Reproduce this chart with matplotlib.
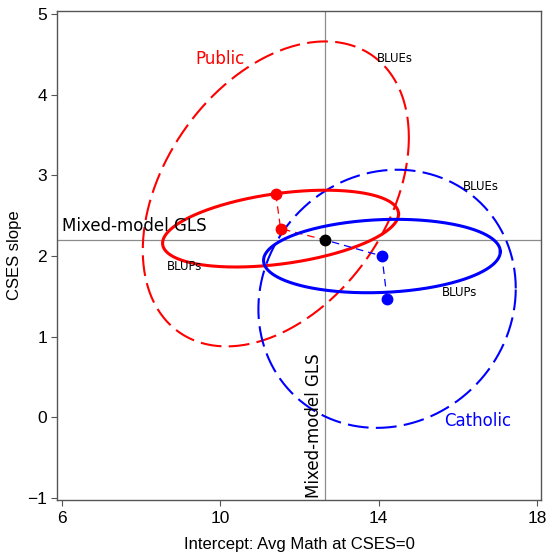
import numpy as np
import matplotlib
matplotlib.use('Agg')
import matplotlib.pyplot as plt

# group summaries: centre (intercept, slope), half-widths and correlation of the 68% ellipse
groups = ['Public', 'Catholic']
colors = ['red', 'blue']
blue_centers = [(11.40, 2.77), (14.21, 1.47)]
blue_halfwidths = [(3.36, 1.89), (3.25, 1.60)]
blue_corr = [0.37, 0.08]
blup_centers = [(11.52, 2.34), (14.08, 2.00)]
blup_halfwidths = [(2.98, 0.476), (2.99, 0.455)]
blup_corr = [0.38, 0.12]
gls_center = (12.64, 2.20)

# label positions (data coords)
group_label_pos = [(9.99, 4.44), (16.5, -0.05)]
blue_label_pos = [(14.40, 4.45), (16.59, 2.86)]
blup_label_pos = [(9.1, 1.87), (16.05, 1.55)]


def ellipse_xy(center, halfw, r, n=400):
    t = np.linspace(0, 2 * np.pi, n)
    x = center[0] + halfw[0] * np.cos(t)
    y = center[1] + halfw[1] * (r * np.cos(t) + np.sqrt(1 - r ** 2) * np.sin(t))
    return x, y


plt.rcParams['font.family'] = ['Liberation Sans', 'DejaVu Sans']

fig = plt.figure(figsize=(5.46, 5.59), dpi=100)
ax = fig.add_axes([0.1053, 0.1047, 0.885, 0.876])

ax.axvline(gls_center[0], color='#8c8c8c', lw=0.9, zorder=1)
ax.axhline(gls_center[1], color='#8c8c8c', lw=0.9, zorder=1)

for i, g in enumerate(groups):
    c = colors[i]
    x, y = ellipse_xy(blue_centers[i], blue_halfwidths[i], blue_corr[i])
    ax.plot(x, y, color=c, lw=1.5, dashes=(10, 3.5), zorder=2)
    x, y = ellipse_xy(blup_centers[i], blup_halfwidths[i], blup_corr[i])
    ax.plot(x, y, color=c, lw=2.2, zorder=3)
    # connectors BLUE -> BLUP -> GLS
    ax.plot([blue_centers[i][0], blup_centers[i][0], gls_center[0]],
            [blue_centers[i][1], blup_centers[i][1], gls_center[1]],
            color=c, lw=0.9, dashes=(6, 4), zorder=3)
    ax.plot([blue_centers[i][0], blup_centers[i][0]],
            [blue_centers[i][1], blup_centers[i][1]],
            'o', color=c, ms=7.5, zorder=4)
    ax.text(group_label_pos[i][0], group_label_pos[i][1], g, color=c,
            fontsize=12, ha='center', va='center', family='DejaVu Sans')
    ax.text(blue_label_pos[i][0], blue_label_pos[i][1], 'BLUEs',
            fontsize=8.5, ha='center', va='center', family='DejaVu Sans')
    ax.text(blup_label_pos[i][0], blup_label_pos[i][1], 'BLUPs',
            fontsize=8.5, ha='center', va='center', family='DejaVu Sans')

ax.plot(gls_center[0], gls_center[1], 'o', color='black', ms=7.5, zorder=5)

ax.text(6.0, gls_center[1] + 0.06, 'Mixed-model GLS', fontsize=12,
        ha='left', va='bottom', family='DejaVu Sans')
ax.text(gls_center[0] - 0.04, -1.0, 'Mixed-model GLS', fontsize=12,
        rotation=90, ha='right', va='bottom', family='DejaVu Sans')

ax.set_xlim(5.886, 18.09)
ax.set_ylim(-1.03, 5.04)
ax.set_xticks([6, 10, 14, 18])
ax.set_yticks([-1, 0, 1, 2, 3, 4, 5])
ax.tick_params(labelsize=12.5, length=4, width=0.8, color='#555555')
for s in ax.spines.values():
    s.set_color('#555555')
    s.set_linewidth(1.0)

ax.set_xlabel('Intercept: Avg Math at CSES=0', fontsize=12, labelpad=8)
ax.set_ylabel('CSES slope', fontsize=12, labelpad=4)

fig.savefig('out.png', dpi=100)
